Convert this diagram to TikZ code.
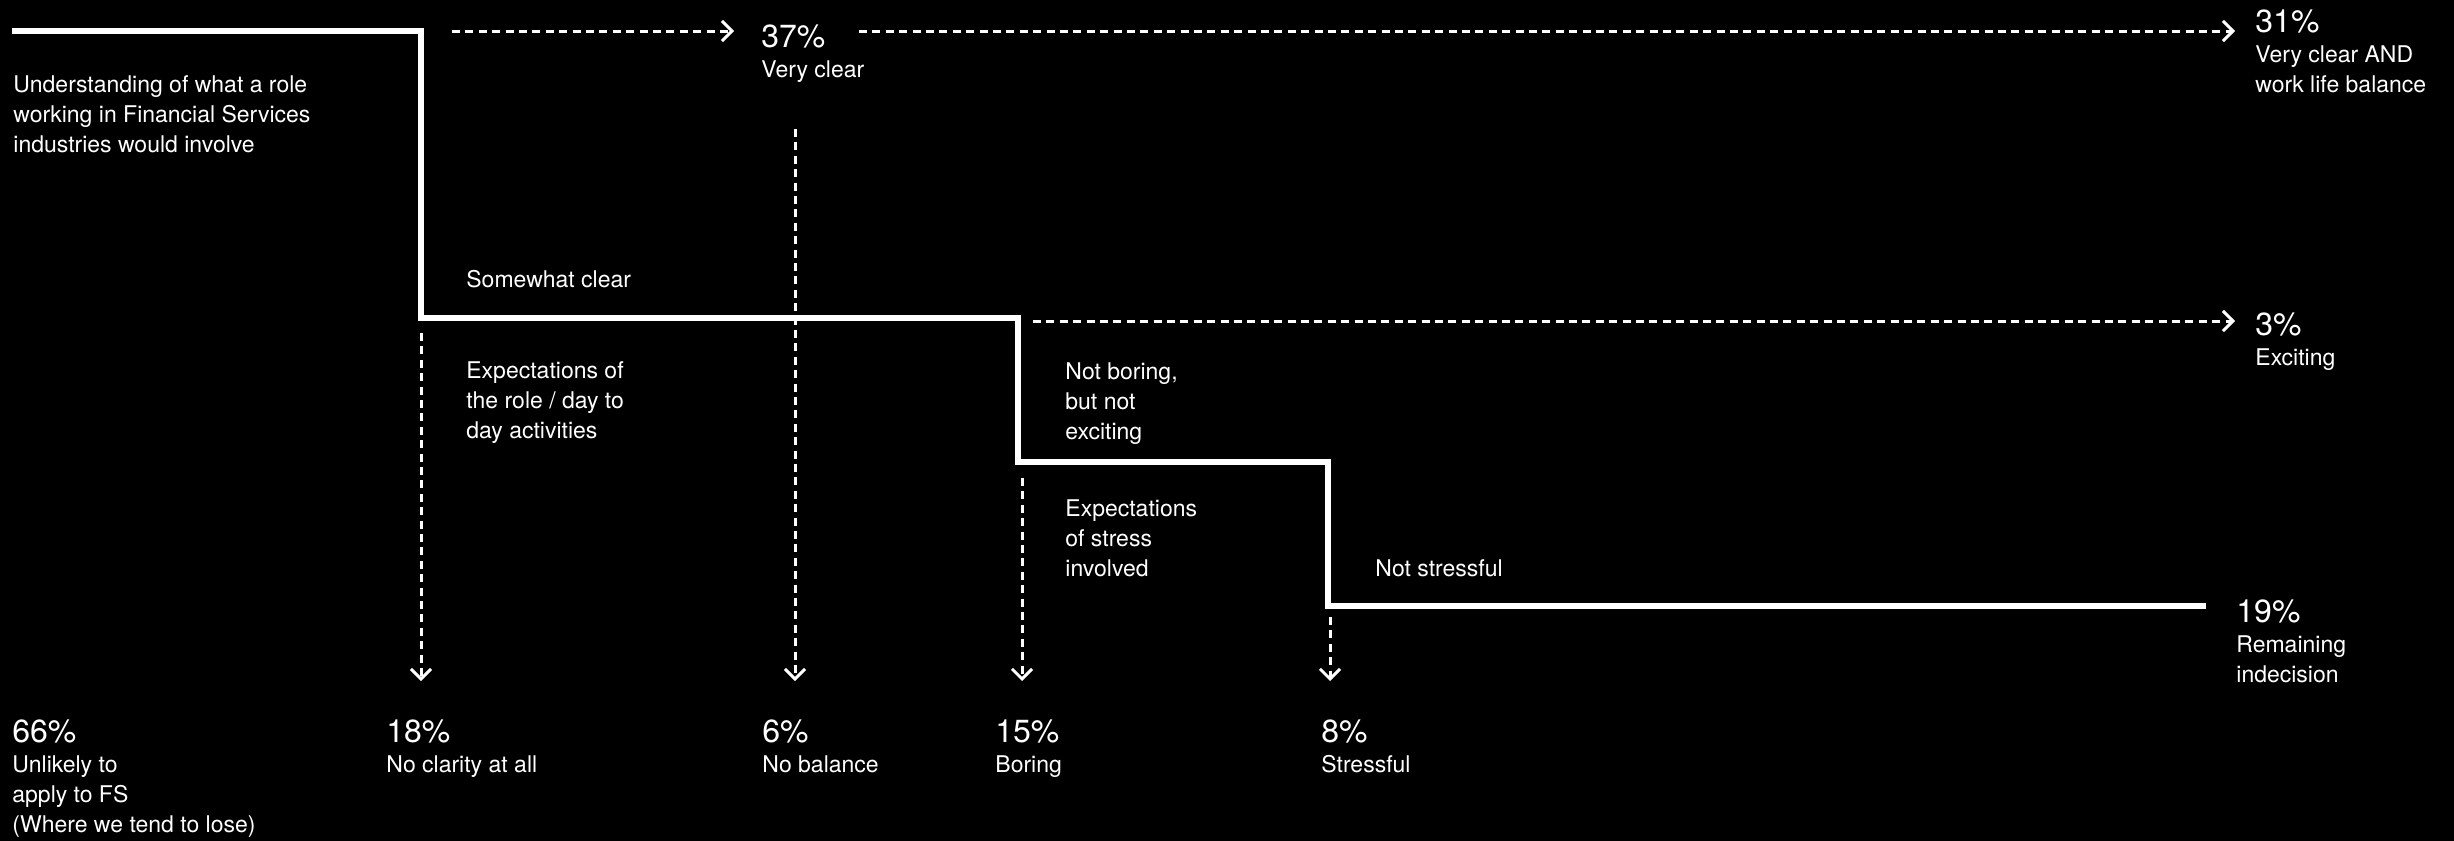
\documentclass[tikz,border=0pt]{standalone}
\usepackage{fontspec}
\setmainfont{TeX Gyre Heros}
\usetikzlibrary{arrows.meta,positioning}
\newcommand{\pct}[1]{{\fontsize{16}{15}\selectfont #1\%}}

\begin{document}
\begin{tikzpicture}[
    x=0.5pt, y=-0.5pt,
    >={Straight Barb[length=5pt,width=10pt]},
    % solid path of the funnel
    stepline/.style={draw=white, line width=2.75pt},
    % dashed branches leaving the funnel
    branch/.style={draw=white, line width=1.5pt, dash pattern=on 4pt off 2.7pt, ->},
    % labels are set at the baseline of their last line
    lbl/.style={anchor=base west, align=left, inner sep=0pt, text=white,
        font=\fontsize{11.5}{15}\selectfont}
]
    \useasboundingbox (0,0) rectangle (2454,841);
    \fill[black] (0,0) rectangle (2454,841);

    % --- FUNNEL CORNERS ---
    \coordinate (start) at (12,31);
    \coordinate (k1) at (421,318);
    \coordinate (k2) at (1018,462);
    \coordinate (k3) at (1328,606);
    \coordinate (finish) at (2206,606);

    % --- TEXT: along the funnel ---
    \node[lbl] (intro) at (13,152) {Understanding of what a role\\working in Financial Services\\industries would involve};
    \node[lbl] (swClear) at (466,287) {Somewhat clear};
    \node[lbl] (expRole) at (466,438) {Expectations of\\the role / day to\\day activities};
    \node[lbl] (notBoring) at (1065,439) {Not boring,\\but not\\exciting};
    \node[lbl] (expStress) at (1065,576) {Expectations\\of stress\\involved};
    \node[lbl] (notStress) at (1375,576) {Not stressful};

    % --- TEXT: outcomes on the right / top ---
    \node[lbl] (vClear) at (761,77) {\pct{37}\\Very clear};
    \node[lbl] (vcBalance) at (2255,92) {\pct{31}\\Very clear AND\\work life balance};
    \node[lbl] (exciting) at (2255,365) {\pct{3}\\Exciting};
    \node[lbl] (remain) at (2236,682) {\pct{19}\\Remaining\\indecision};

    % --- TEXT: drop-outs at the bottom ---
    \node[lbl] (unlikely) at (12,832) {\pct{66}\\Unlikely to\\apply to FS\\(Where we tend to lose)};
    \node[lbl] (noClarity) at (386,772) {\pct{18}\\No clarity at all};
    \node[lbl] (noBalance) at (762,772) {\pct{6}\\No balance};
    \node[lbl] (boring) at (995,772) {\pct{15}\\Boring};
    \node[lbl] (stressful) at (1321,772) {\pct{8}\\Stressful};

    % --- BRANCH ENDS ---
    \coordinate (t1a) at (452,31);   \coordinate (t1b) at (734,31);
    \coordinate (t2a) at (859,31);   \coordinate (t2b) at (2235,31);
    \coordinate (t3a) at (1033,321); \coordinate (t3b) at (2235,321);
    \coordinate (d1a) at (421,333);  \coordinate (d1b) at (421,681);
    \coordinate (d2a) at (795,129);  \coordinate (d2b) at (795,681);
    \coordinate (d3a) at (1022,478); \coordinate (d3b) at (1022,681);
    \coordinate (d4a) at (1330,617); \coordinate (d4b) at (1330,681);

    % --- EDGES ---
    \draw[stepline] (start) -| (k1) -| (k2) -| (k3) -- (finish);

    \draw[branch] (t1a) -- (t1b);
    \draw[branch] (t2a) -- (t2b);
    \draw[branch] (t3a) -- (t3b);
    \draw[branch] (d1a) -- (d1b);
    \draw[branch] (d2a) -- (d2b);
    \draw[branch] (d3a) -- (d3b);
    \draw[branch] (d4a) -- (d4b);

\end{tikzpicture}
\end{document}
